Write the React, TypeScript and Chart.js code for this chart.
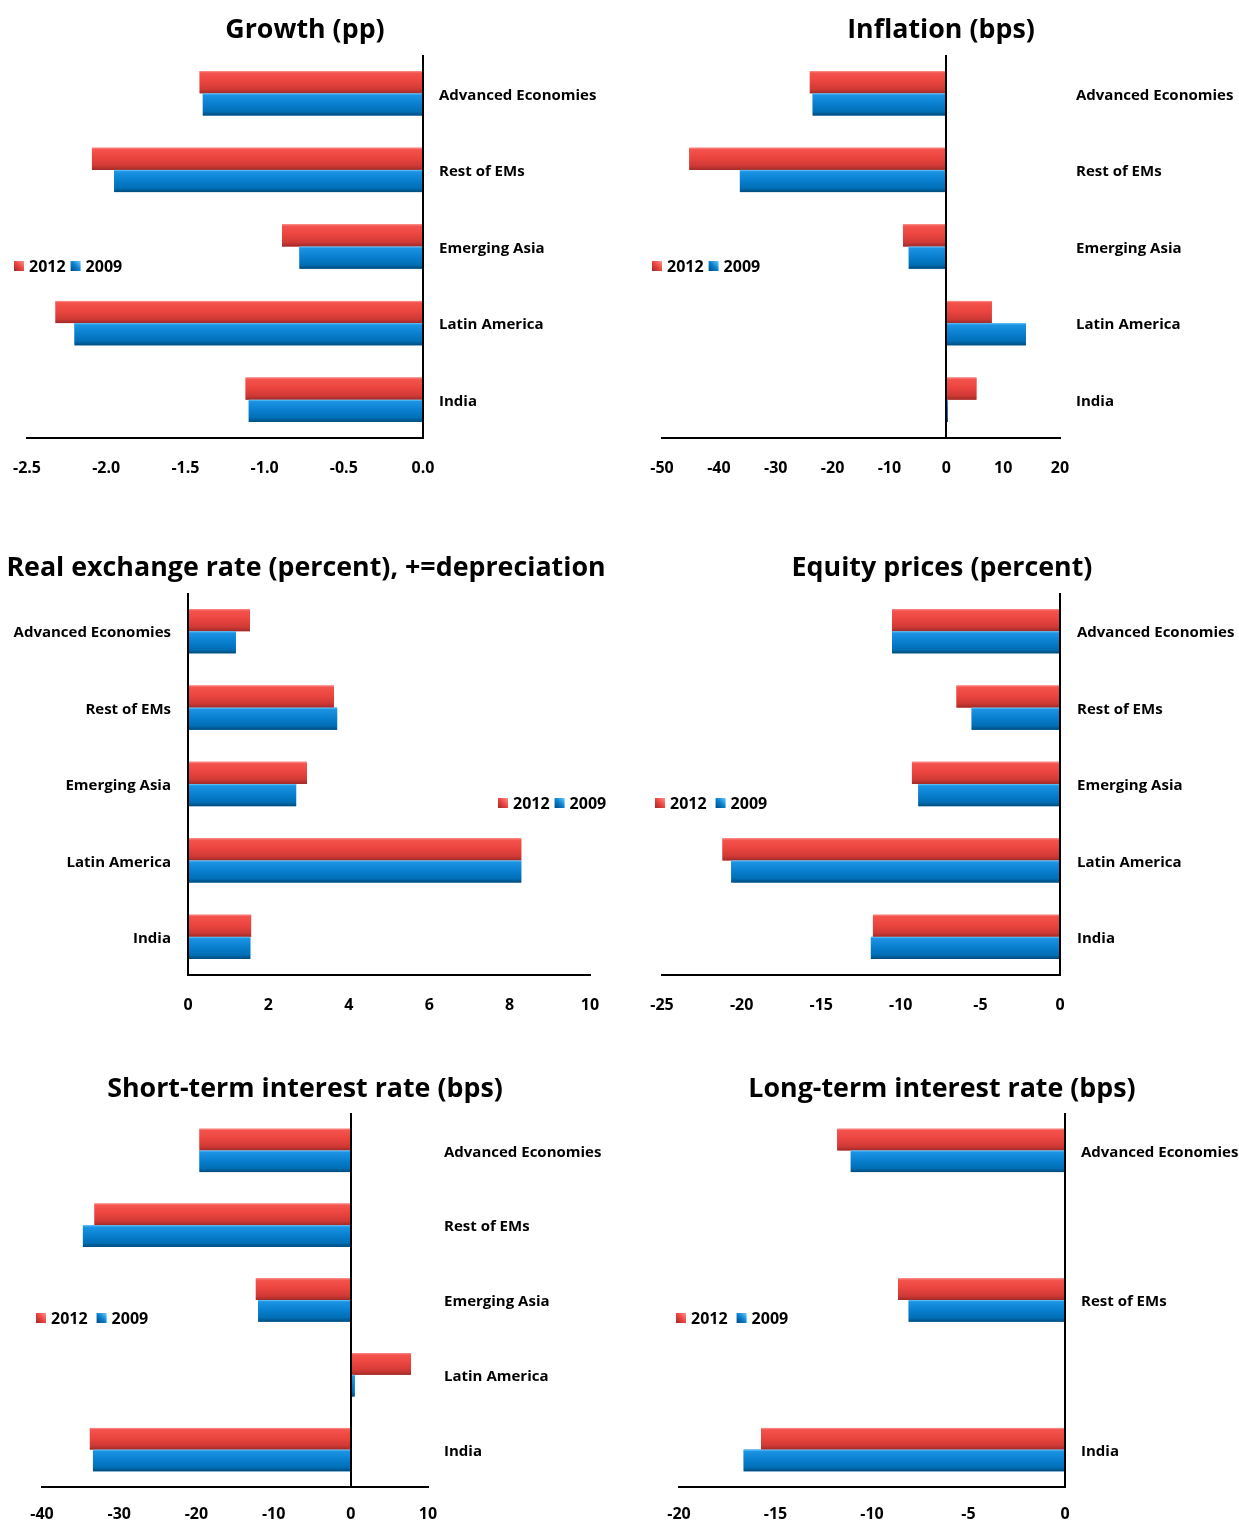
import React, { useEffect, useRef } from "react";
import { Chart, registerables } from "chart.js";

Chart.register(...registerables);

// ---------------- DATA ----------------
const SERIES_LABELS = ["2012", "2009"];

const CATEGORIES = ["Advanced Economies", "Rest of EMs", "Emerging Asia", "Latin America", "India"];
const CATEGORIES_LONG_RATE = ["Advanced Economies", "", "Rest of EMs", "", "India"];

const GROWTH_2012 = [-1.41, -2.09, -0.89, -2.32, -1.12];
const GROWTH_2009 = [-1.39, -1.95, -0.78, -2.2, -1.1];

const INFLATION_2012 = [-24.0, -45.2, -7.6, 8.0, 5.3];
const INFLATION_2009 = [-23.5, -36.3, -6.6, 14.0, 0.3];

const RER_2012 = [1.54, 3.63, 2.96, 8.29, 1.57];
const RER_2009 = [1.19, 3.71, 2.69, 8.29, 1.55];

const EQUITY_2012 = [-10.55, -6.5, -9.3, -21.2, -11.75];
const EQUITY_2009 = [-10.55, -5.55, -8.9, -20.65, -11.88];

const SHORT_RATE_2012 = [-19.6, -33.2, -12.3, 7.8, -33.8];
const SHORT_RATE_2009 = [-19.6, -34.7, -12.0, 0.5, -33.4];

const LONG_RATE_2012 = [-11.8, null, -8.65, null, -15.75];
const LONG_RATE_2009 = [-11.1, null, -8.1, null, -16.65];

// axis ranges: [min, max, step, decimals]
const GROWTH_AXIS = [-2.5, 0, 0.5, 1];
const INFLATION_AXIS = [-50, 20, 10, 0];
const RER_AXIS = [0, 10, 2, 0];
const EQUITY_AXIS = [-25, 0, 5, 0];
const SHORT_RATE_AXIS = [-40, 10, 10, 0];
const LONG_RATE_AXIS = [-20, 0, 5, 0];

const TITLES = [
  "Growth (pp)",
  "Inflation (bps)",
  "Real exchange rate (percent), +=depreciation",
  "Equity prices (percent)",
  "Short-term interest rate (bps)",
  "Long-term interest rate (bps)",
];

// ---------------- STYLE ----------------
const FONT = '"Open Sans", "Noto Sans", sans-serif';
const RED = "#e8413c";
const BLUE = "#0a7fcf";
const RED_STOPS: [number, string][] = [
  [0, "#ff9590"],
  [0.08, "#f4534d"],
  [0.45, "#ec4540"],
  [0.82, "#cf3935"],
  [1, "#9e2a28"],
];
const BLUE_STOPS: [number, string][] = [
  [0, "#6ccbff"],
  [0.08, "#1d93e3"],
  [0.45, "#0a80d0"],
  [0.82, "#006fb6"],
  [1, "#004a7a"],
];
const STOPS = [RED_STOPS, BLUE_STOPS];

const bevelPlugin = {
  id: "bevel",
  afterDatasetsDraw(chart: any) {
    const ctx = chart.ctx;
    const area = chart.chartArea;
    ctx.save();
    chart.data.datasets.forEach((_ds: any, di: number) => {
      const meta = chart.getDatasetMeta(di);
      meta.data.forEach((el: any) => {
        const p = el.getProps(["x", "y", "base", "height"], true);
        if (p.x == null || isNaN(p.x) || isNaN(p.base)) return;
        const left = Math.min(p.x, p.base);
        const right = Math.max(p.x, p.base);
        const top = p.y - p.height / 2;
        const bottom = p.y + p.height / 2;
        if (right - left < 0.5) return;
        const g = ctx.createLinearGradient(0, top, 0, bottom);
        STOPS[di].forEach(([o, c]) => g.addColorStop(o, c));
        ctx.fillStyle = g;
        ctx.fillRect(left, top, right - left, bottom - top);
      });
    });
    // zero line
    const x0 = Math.round(chart.scales.x.getPixelForValue(0));
    ctx.strokeStyle = "#000";
    ctx.lineWidth = 2;
    ctx.beginPath();
    ctx.moveTo(x0, area.top);
    ctx.lineTo(x0, area.bottom);
    ctx.stroke();
    ctx.restore();
  },
};

const legendPlugin = {
  id: "customLegend",
  afterDraw(chart: any, _args: any, opts: any) {
    const ctx = chart.ctx;
    let cx = opts.x;
    const cy = opts.y;
    ctx.save();
    ctx.font = `bold 16px ${FONT}`;
    ctx.textBaseline = "middle";
    ctx.textAlign = "left";
    chart.data.datasets.forEach((ds: any, i: number) => {
      const g = ctx.createLinearGradient(cx + 10, cy - 5, cx, cy + 5);
      const st = STOPS[i];
      g.addColorStop(0, st[0][1]);
      g.addColorStop(0.5, st[2][1]);
      g.addColorStop(1, st[4][1]);
      ctx.fillStyle = g;
      ctx.fillRect(cx, cy - 5, 10, 10);
      cx += 15;
      ctx.fillStyle = "#000";
      ctx.fillText(ds.label, cx, cy + 1);
      cx += ctx.measureText(ds.label).width + opts.gap;
    });
    ctx.restore();
  },
};

type Box = { cl: number; ct: number; w: number; h: number; L: number; R: number; T: number; B: number };
type PanelCfg = {
  title: string;
  titleCx: number;
  titleCy: number;
  cats: string[];
  s2012: (number | null)[];
  s2009: (number | null)[];
  axis: number[];
  side: "left" | "right";
  box: Box;
  xTickPad: number;
  yTickPad: number;
  legend: { x: number; y: number; gap: number };
};

const PANELS: PanelCfg[] = [
  {
    title: TITLES[0], titleCx: 305, titleCy: 28,
    cats: CATEGORIES, s2012: GROWTH_2012, s2009: GROWTH_2009, axis: GROWTH_AXIS, side: "right",
    box: { cl: 0, ct: 0, w: 610, h: 490, L: 27, R: 423, T: 55, B: 438 },
    xTickPad: 21, yTickPad: 16, legend: { x: 14, y: 266, gap: 5 },
  },
  {
    title: TITLES[1], titleCx: 941, titleCy: 28,
    cats: CATEGORIES, s2012: INFLATION_2012, s2009: INFLATION_2009, axis: INFLATION_AXIS, side: "right",
    box: { cl: 643, ct: 0, w: 596, h: 490, L: 662, R: 1060, T: 55, B: 438 },
    xTickPad: 21, yTickPad: 16, legend: { x: 9, y: 266, gap: 5 },
  },
  {
    title: TITLES[2], titleCx: 306, titleCy: 566,
    cats: CATEGORIES, s2012: RER_2012, s2009: RER_2009, axis: RER_AXIS, side: "left",
    box: { cl: 0, ct: 538, w: 610, h: 490, L: 188, R: 590, T: 593, B: 975 },
    xTickPad: 21, yTickPad: 17, legend: { x: 498, y: 265, gap: 5 },
  },
  {
    title: TITLES[3], titleCx: 942, titleCy: 566,
    cats: CATEGORIES, s2012: EQUITY_2012, s2009: EQUITY_2009, axis: EQUITY_AXIS, side: "right",
    box: { cl: 643, ct: 538, w: 596, h: 490, L: 662, R: 1060, T: 593, B: 975 },
    xTickPad: 21, yTickPad: 17, legend: { x: 12, y: 265, gap: 9 },
  },
  {
    title: TITLES[4], titleCx: 305, titleCy: 1087,
    cats: CATEGORIES, s2012: SHORT_RATE_2012, s2009: SHORT_RATE_2009, axis: SHORT_RATE_AXIS, side: "right",
    box: { cl: 0, ct: 1059, w: 610, h: 464, L: 42, R: 428, T: 1113, B: 1487 },
    xTickPad: 18, yTickPad: 16, legend: { x: 36, y: 259, gap: 9 },
  },
  {
    title: TITLES[5], titleCx: 942, titleCy: 1087,
    cats: CATEGORIES_LONG_RATE, s2012: LONG_RATE_2012, s2009: LONG_RATE_2009, axis: LONG_RATE_AXIS, side: "right",
    box: { cl: 643, ct: 1059, w: 596, h: 464, L: 679, R: 1065, T: 1113, B: 1487 },
    xTickPad: 18, yTickPad: 16, legend: { x: 33, y: 259, gap: 9 },
  },
];

function Panel({ cfg }: { cfg: PanelCfg }) {
  const ref = useRef<HTMLCanvasElement>(null);
  useEffect(() => {
    const b = cfg.box;
    const [min, max, step, dec] = cfg.axis;
    const xH = b.ct + b.h - b.B;
    const padTop = b.T - b.ct;
    let padLeft: number, padRight: number, yW: number;
    if (cfg.side === "right") {
      padLeft = b.L - b.cl;
      padRight = 0;
      yW = b.cl + b.w - b.R;
    } else {
      padLeft = 0;
      yW = b.L - b.cl;
      padRight = b.cl + b.w - b.R;
    }
    const xFont = { family: FONT, size: 16, weight: "bold" as const };
    const yFont = { family: FONT, size: 15, weight: "bold" as const };
    const chart = new Chart(ref.current as HTMLCanvasElement, {
      type: "bar",
      data: {
        labels: cfg.cats,
        datasets: [
          { label: SERIES_LABELS[0], data: cfg.s2012 as any, backgroundColor: RED, borderWidth: 0, categoryPercentage: 0.58, barPercentage: 1 },
          { label: SERIES_LABELS[1], data: cfg.s2009 as any, backgroundColor: BLUE, borderWidth: 0, categoryPercentage: 0.58, barPercentage: 1 },
        ],
      },
      options: {
        indexAxis: "y",
        responsive: false,
        animation: false,
        devicePixelRatio: 1,
        layout: { autoPadding: false, padding: { left: padLeft, right: padRight, top: padTop, bottom: 0 } },
        plugins: {
          legend: { display: false },
          title: { display: false },
          tooltip: { enabled: false },
          customLegend: cfg.legend,
        } as any,
        scales: {
          x: {
            type: "linear",
            min, max,
            ticks: {
              stepSize: step,
              callback: (v: any) => Number(v).toFixed(dec),
              font: xFont,
              color: "#000",
              padding: cfg.xTickPad,
              maxRotation: 0,
              autoSkip: false,
            },
            grid: { display: false, drawTicks: false },
            border: { display: true, color: "#000", width: 2 },
            afterFit: (s: any) => {
              s.height = xH;
              s.paddingLeft = 0;
              s.paddingRight = 0;
            },
          },
          y: {
            type: "category",
            position: cfg.side,
            ticks: { font: yFont, color: "#000", padding: cfg.yTickPad, autoSkip: false, labelOffset: 2 },
            grid: { display: false, drawTicks: false },
            border: { display: false },
            afterFit: (s: any) => {
              s.width = yW;
              s.paddingTop = 0;
              s.paddingBottom = 0;
            },
          },
        },
      } as any,
      plugins: [bevelPlugin, legendPlugin],
    });
    return () => chart.destroy();
  }, [cfg]);

  const b = cfg.box;
  return (
    <>
      <canvas
        ref={ref}
        width={b.w}
        height={b.h}
        style={{ position: "absolute", left: b.cl, top: b.ct, width: b.w, height: b.h }}
      />
      <div
        style={{
          position: "absolute",
          left: cfg.titleCx - 400,
          top: cfg.titleCy - 18,
          width: 800,
          height: 36,
          lineHeight: "36px",
          textAlign: "center",
          fontFamily: FONT,
          fontWeight: 700,
          fontSize: 26.8,
          color: "#000",
          whiteSpace: "nowrap",
        }}
      >
        {cfg.title}
      </div>
    </>
  );
}

export default function App() {
  return (
    <div
      style={{
        position: "absolute",
        left: 0,
        top: 0,
        width: 1239,
        height: 1523,
        background: "#fff",
        overflow: "hidden",
      }}
    >
      {PANELS.map((p, i) => (
        <Panel key={i} cfg={p} />
      ))}
    </div>
  );
}
